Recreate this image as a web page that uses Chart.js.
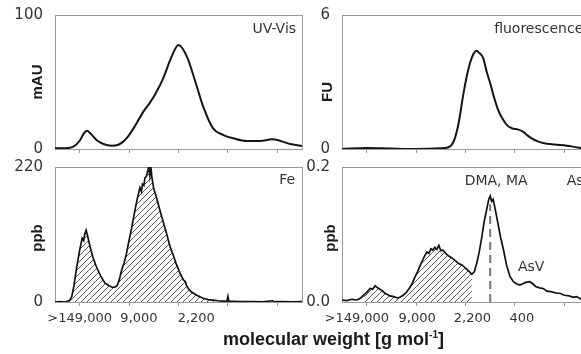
<!DOCTYPE html>
<html>
<head>
<meta charset="utf-8">
<script src="https://cdn.jsdelivr.net/npm/chart.js@4.4.1/dist/chart.umd.min.js"></script>
<style>
html,body{margin:0;padding:0;background:#fff;}
body{width:581px;height:354px;overflow:hidden;position:relative;}
canvas{position:absolute;}
#xtitle{position:absolute;left:0;top:329px;width:667px;text-align:center;font:bold 18px "Liberation Sans",Arial,sans-serif;color:#1a1a1a;white-space:nowrap;line-height:21px;}
#xtitle sup{font-size:10px;line-height:0;vertical-align:7px;}
</style>
</head>
<body>
<canvas id="cUV" width="310" height="160" style="left:0;top:0"></canvas>
<canvas id="cFL" width="310" height="160" style="left:290px;top:0"></canvas>
<canvas id="cFE" width="310" height="199" style="left:0;top:155px"></canvas>
<canvas id="cAS" width="310" height="199" style="left:290px;top:155px"></canvas>
<div id="xtitle">molecular weight [g mol<sup>-1</sup>]</div>
<script>
// ---- axis ticks / labels ----
const xTickPos = [0.5, 1.5, 2.5, 3.5, 4.5];
const leftLabelPos = [0.5, 1.7, 2.86];
const leftLabels = ['>149,000', '9,000', '2,200'];
const rightLabelPos = [0.3, 1.52, 2.64, 3.64];
const rightLabels = ['>149,000', '9,000', '2,200', '400'];
const uvMax = 100, fluoMax = 6, feMax = 220, asMax = 0.2;

// ---- UV-Vis (mAU) ----
const uvX = [0, 0.3, 0.42, 0.51, 0.58, 0.65, 0.72, 0.84, 0.98, 1.15, 1.28, 1.38, 1.48, 1.59, 1.79, 1.9, 2.02, 2.19, 2.36, 2.5, 2.67, 2.83, 3.0, 3.2, 3.41, 3.61, 3.88, 4.15, 4.39, 4.55, 4.76, 4.96, 5.0];
const uvY = [0.5, 1.0, 3.0, 6.7, 11.5, 13.7, 11.5, 6.7, 3.7, 2.5, 3.2, 5.5, 9.5, 15.4, 27.9, 33.5, 40.3, 52.7, 68.9, 77.6, 68.9, 51.5, 31.6, 15.4, 10.4, 8.0, 6.0, 6.0, 7.2, 6.2, 3.7, 2.5, 2.3];

// ---- fluorescence (FU) ----
const fluoX = [0, 0.5, 1.0, 1.5, 2.0, 2.19, 2.28, 2.36, 2.46, 2.53, 2.59, 2.66, 2.72, 2.78, 2.86, 2.93, 3.0, 3.08, 3.16, 3.25, 3.34, 3.45, 3.56, 3.67, 3.76, 3.85, 3.95, 4.07, 4.3, 4.55, 4.8, 5.0];
const fluoY = [0, 0.05, 0.02, 0, 0.03, 0.12, 0.45, 1.15, 2.5, 3.3, 3.84, 4.25, 4.4, 4.3, 4.06, 3.45, 2.94, 2.3, 1.75, 1.35, 1.07, 0.92, 0.88, 0.77, 0.6, 0.46, 0.35, 0.27, 0.2, 0.15, 0.06, 0.03];

// ---- Fe (ppb) ----
const feX = [0, 0.1, 0.2, 0.25, 0.3, 0.34, 0.38, 0.44, 0.5, 0.55, 0.58, 0.6, 0.63, 0.66, 0.71, 0.77, 0.84, 0.92, 1.01, 1.1, 1.16, 1.21, 1.26, 1.3, 1.35, 1.4, 1.45, 1.48, 1.55, 1.62, 1.67, 1.72, 1.75, 1.77, 1.8, 1.82, 1.85, 1.88, 1.9, 1.92, 1.94, 1.96, 2.0, 2.05, 2.1, 2.16, 2.2, 2.25, 2.33, 2.4, 2.45, 2.53, 2.6, 2.64, 2.66, 2.7, 2.75, 2.87, 3.0, 3.1, 3.2, 3.3, 3.4, 3.48, 3.5, 3.52, 3.6, 3.8, 4.0, 4.2, 4.4, 4.45, 4.6, 4.8, 5.0];
const feY = [0, 0.5, 0, 1, 3, 9, 25, 57, 85, 104, 100, 110, 117, 108, 90, 72, 57, 43, 31, 26, 24, 24, 27, 36, 52, 64, 80, 93, 120, 150, 170, 186, 180, 192, 190, 202, 205, 214, 221, 206, 221, 204, 184, 172, 157, 139, 128, 114, 90, 75, 63, 47, 36, 33, 27, 22, 17, 11, 6, 4, 3, 2, 1.5, 1, 9, 1, 1, 0.5, 0.8, 0.4, 2, 0.5, 0.5, 0.3, 0.5];

// ---- As (ppb) ----
const asX = [0.0, 0.1, 0.2, 0.3, 0.38, 0.45, 0.51, 0.57, 0.62, 0.67, 0.72, 0.77, 0.81, 0.87, 0.92, 0.97, 1.05, 1.12, 1.17, 1.24, 1.30, 1.36, 1.42, 1.47, 1.52, 1.57, 1.62, 1.67, 1.72, 1.76, 1.80, 1.84, 1.88, 1.92, 1.96, 2.00, 2.04, 2.10, 2.16, 2.23, 2.30, 2.36, 2.43, 2.50, 2.56, 2.63, 2.68, 2.73, 2.78, 2.83, 2.88, 2.94, 2.97, 3.00, 3.03, 3.06, 3.10, 3.16, 3.21, 3.27, 3.33, 3.40, 3.47, 3.53, 3.60, 3.66, 3.72, 3.80, 3.86, 3.92, 4.00, 4.07, 4.15, 4.25, 4.35, 4.41, 4.50, 4.60, 4.68, 4.75, 4.82, 4.90, 5.00];
const asY = [0.003, 0.002, 0.004, 0.003, 0.006, 0.011, 0.015, 0.020, 0.019, 0.024, 0.021, 0.019, 0.017, 0.013, 0.011, 0.009, 0.008, 0.006, 0.007, 0.010, 0.014, 0.020, 0.027, 0.036, 0.043, 0.052, 0.060, 0.068, 0.074, 0.072, 0.079, 0.077, 0.081, 0.078, 0.084, 0.076, 0.077, 0.072, 0.068, 0.065, 0.061, 0.057, 0.055, 0.050, 0.046, 0.041, 0.045, 0.058, 0.075, 0.096, 0.120, 0.141, 0.152, 0.157, 0.149, 0.152, 0.138, 0.115, 0.096, 0.077, 0.055, 0.038, 0.030, 0.027, 0.025, 0.027, 0.029, 0.030, 0.027, 0.023, 0.021, 0.020, 0.016, 0.015, 0.013, 0.013, 0.010, 0.009, 0.007, 0.008, 0.005, 0.004, 0.004];
const asHatchFrom = 0.45, asHatchTo = 2.63;
const dmaX = 3.0, dmaTop = 0.145;

// ---- helpers ----
const pts = (xs, ys) => xs.map((x, i) => ({x: x, y: ys[i]}));
function hatchPattern(canvasId) {
  const s = 6;
  const c = document.createElement('canvas');
  c.width = s; c.height = s;
  const g = c.getContext('2d');
  g.strokeStyle = '#5a5a5a'; g.lineWidth = 1;
  g.beginPath();
  g.moveTo(0, s); g.lineTo(s, 0);
  g.moveTo(-1, 1); g.lineTo(1, -1);
  g.moveTo(s - 1, s + 1); g.lineTo(s + 1, s - 1);
  g.stroke();
  return document.getElementById(canvasId).getContext('2d').createPattern(c, 'repeat');
}

const decorPlugin = {
  id: 'decor',
  beforeDatasetsDraw(chart) {
    const ctx = chart.ctx, a = chart.chartArea;
    ctx.save();
    ctx.strokeStyle = '#9a9a9a'; ctx.lineWidth = 1;
    ctx.strokeRect(Math.round(a.left) + 0.5, Math.round(a.top) + 0.5, Math.round(a.right - a.left), Math.round(a.bottom - a.top));
    ctx.restore();
  },
  afterDatasetsDraw(chart, args, o) {
    const ctx = chart.ctx, a = chart.chartArea, sc = chart.scales;
    ctx.save();
    ctx.translate(a.left - o.dx, (a.top + a.bottom) / 2 + o.dy);
    ctx.rotate(-Math.PI / 2);
    ctx.font = 'bold 15px "Liberation Sans", Arial, sans-serif';
    ctx.fillStyle = '#1a1a1a'; ctx.textAlign = 'center'; ctx.textBaseline = 'middle';
    ctx.fillText(o.yTitle, 0, 0);
    ctx.restore();
    (o.notes || []).forEach(t => {
      ctx.save();
      ctx.font = '14px "DejaVu Sans", sans-serif';
      ctx.fillStyle = '#333'; ctx.textAlign = t.align; ctx.textBaseline = 'middle';
      ctx.fillText(t.text, sc.x.getPixelForValue(t.x), sc.y.getPixelForValue(t.y));
      ctx.restore();
    });
  }
};

function noPad(s) { s.paddingTop = 0; s.paddingBottom = 0; s.paddingLeft = 0; s.paddingRight = 0; }

function makeChart(id, cfg) {
  const scales = {
    x: {
      type: 'linear', min: 0, max: 5, position: 'bottom', weight: 0,
      grid: {display: true, drawOnChartArea: false, drawTicks: true, tickLength: 4, color: '#9a9a9a', lineWidth: 1},
      border: {display: false},
      ticks: {display: false},
      afterBuildTicks: s => { s.ticks = xTickPos.map(v => ({value: v})); },
      afterFit: s => { s.height = 4; noPad(s); }
    },
    y: {
      type: 'linear', min: 0, max: cfg.yMax,
      grid: {display: false, drawTicks: false}, border: {display: false},
      ticks: {font: {family: 'DejaVu Sans', size: 15}, color: '#333', padding: 12, callback: cfg.yFmt},
      afterBuildTicks: s => { s.ticks = [{value: 0}, {value: cfg.yMax}]; },
      afterFit: s => { s.width = cfg.yWidth; noPad(s); }
    }
  };
  if (cfg.labels) {
    scales.xl = {
      type: 'linear', min: 0, max: 5, position: 'bottom', weight: 1,
      grid: {display: false, drawTicks: false}, border: {display: false},
      ticks: {font: {family: 'DejaVu Sans', size: 13}, color: '#333', padding: 5, autoSkip: false, maxRotation: 0, minRotation: 0,
        callback: (v, i) => cfg.labels[i]},
      afterBuildTicks: s => { s.ticks = cfg.labelPos.map(v => ({value: v})); },
      afterFit: s => { s.height = 48; noPad(s); }
    };
  }
  return new Chart(document.getElementById(id), {
    type: 'line',
    data: {datasets: cfg.datasets},
    options: {
      responsive: false, animation: false, events: [],
      layout: {padding: cfg.padding},
      elements: {point: {radius: 0}},
      plugins: {legend: {display: false}, tooltip: {enabled: false}, decor: cfg.decor},
      scales: scales
    },
    plugins: [decorPlugin]
  });
}

makeChart('cUV', {
  yMax: uvMax, yWidth: 55, yFmt: v => String(v),
  padding: {top: 15, right: 8, left: 0, bottom: 7},
  datasets: [{data: pts(uvX, uvY), borderColor: '#151515', borderWidth: 2, cubicInterpolationMode: 'monotone', fill: false}],
  decor: {yTitle: 'mAU', dx: 17, dy: 0, notes: [{text: 'UV-Vis', x: 4.88, y: 89.6, align: 'right'}]}
});

makeChart('cFL', {
  yMax: fluoMax, yWidth: 52, yFmt: v => String(v),
  padding: {top: 15, right: 11, left: 0, bottom: 7},
  datasets: [{data: pts(fluoX, fluoY), borderColor: '#151515', borderWidth: 2, cubicInterpolationMode: 'monotone', fill: false}],
  decor: {yTitle: 'FU', dx: 14, dy: 10, notes: [{text: 'fluorescence', x: 3.08, y: 5.37, align: 'left'}]}
});

makeChart('cFE', {
  yMax: feMax, yWidth: 55, yFmt: v => String(v),
  padding: {top: 12, right: 8, left: 0, bottom: 0},
  labels: leftLabels, labelPos: leftLabelPos,
  datasets: [{data: pts(feX, feY), borderColor: '#111', borderWidth: 1.7, tension: 0, fill: 'origin', backgroundColor: hatchPattern('cFE')}],
  decor: {yTitle: 'ppb', dx: 17, dy: 3.5, notes: [{text: 'Fe', x: 4.86, y: 198.8, align: 'right'}]}
});

const asAll = pts(asX, asY);
makeChart('cAS', {
  yMax: asMax, yWidth: 52, yFmt: v => v.toFixed(1),
  padding: {top: 12, right: 11, left: 0, bottom: 0},
  labels: rightLabels, labelPos: rightLabelPos,
  datasets: [
    {data: asAll, borderColor: '#111', borderWidth: 1.7, tension: 0, fill: false},
    {data: asAll.filter(p => p.x >= asHatchFrom && p.x <= asHatchTo), borderWidth: 0, borderColor: 'rgba(0,0,0,0)', tension: 0, fill: 'origin', backgroundColor: hatchPattern('cAS')},
    {data: [{x: dmaX, y: 0}, {x: dmaX, y: dmaTop}], borderColor: '#777', borderWidth: 2, borderDash: [8, 5], fill: false}
  ],
  decor: {yTitle: 'ppb', dx: 11, dy: 3.5, notes: [
    {text: 'DMA, MA', x: 3.12, y: 0.179, align: 'center'},
    {text: 'As', x: 4.55, y: 0.179, align: 'left'},
    {text: 'AsV', x: 3.83, y: 0.052, align: 'center'}
  ]}
});
</script>
</body>
</html>
